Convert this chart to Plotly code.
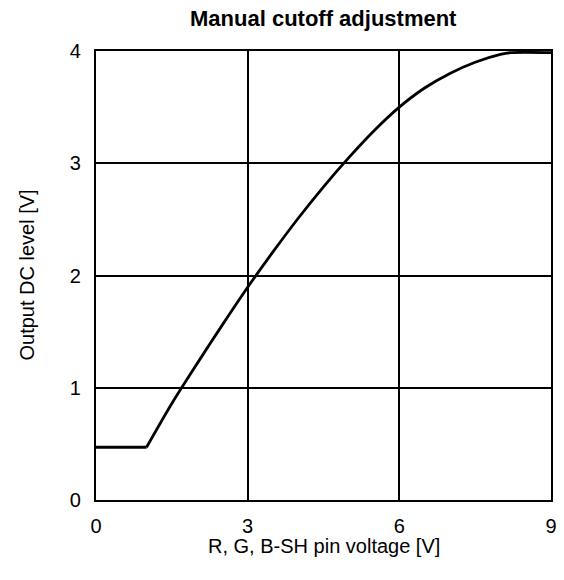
import plotly.graph_objects as go

# Data
pin_voltage = [0, 1.0, 1.5, 2.0, 2.5, 3.0, 3.5, 4.0, 4.5, 5.0, 5.5, 6.0, 6.5, 7.0, 7.5, 8.0, 8.2, 9.0]
output_dc = [0.47, 0.47, 0.86, 1.215, 1.56, 1.895, 2.21, 2.51, 2.79, 3.05, 3.29, 3.50, 3.67, 3.80, 3.90, 3.97, 3.985, 3.985]

x_ticks = [0, 3, 6, 9]
y_ticks = [0, 1, 2, 3, 4]

title_text = "Manual cutoff adjustment"
x_title = "R, G, B-SH pin voltage [V]"
y_title = "Output DC level [V]"

FONT = "Liberation Sans, Arial, Helvetica, sans-serif"

fig = go.Figure()
# flat part (sharp corner at the knee)
fig.add_trace(go.Scatter(
    x=pin_voltage[:2], y=output_dc[:2], mode="lines",
    line=dict(color="black", width=2.8),
    showlegend=False, hoverinfo="skip",
))
# smooth rising part
fig.add_trace(go.Scatter(
    x=pin_voltage[1:], y=output_dc[1:], mode="lines",
    line=dict(color="black", width=2.8, shape="spline", smoothing=0.8),
    showlegend=False, hoverinfo="skip",
))

fig.update_layout(
    width=564, height=580,
    margin=dict(l=96, r=13, t=51, b=80, autoexpand=False),
    paper_bgcolor="white", plot_bgcolor="white",
    font=dict(family=FONT, color="black", size=19),
    annotations=[
        dict(text="<b>" + title_text + "</b>", xref="paper", yref="paper",
             x=0.5, y=1, yshift=33, xanchor="center", yanchor="middle",
             showarrow=False, font=dict(family=FONT, size=22, color="black")),
        dict(text=x_title, xref="paper", yref="paper",
             x=0.5, y=0, yshift=-46, xanchor="center", yanchor="middle",
             showarrow=False, font=dict(family=FONT, size=20, color="black")),
        dict(text=y_title, xref="paper", yref="paper", textangle=-90,
             x=0, y=0.5, xshift=-70, xanchor="center", yanchor="middle",
             showarrow=False, font=dict(family=FONT, size=20, color="black")),
    ],
)
fig.update_xaxes(
    range=[0, 9], tickvals=x_ticks, ticktext=[str(v) for v in x_ticks],
    showgrid=True, gridcolor="black", gridwidth=1.6,
    showline=True, linecolor="black", linewidth=2.2, mirror=True,
    ticks="", ticklabelstandoff=7, zeroline=False, automargin=False,
    tickfont=dict(family=FONT, size=20, color="black"),
)
fig.update_yaxes(
    range=[0, 4], tickvals=y_ticks, ticktext=[str(v) for v in y_ticks],
    showgrid=True, gridcolor="black", gridwidth=1.6,
    showline=True, linecolor="black", linewidth=2.2, mirror=True,
    ticks="", ticklabelstandoff=9, zeroline=False, automargin=False,
    tickfont=dict(family=FONT, size=20, color="black"),
)

fig.write_html("out.html", config={"displayModeBar": False},
               post_script="document.body.style.margin='0';")
